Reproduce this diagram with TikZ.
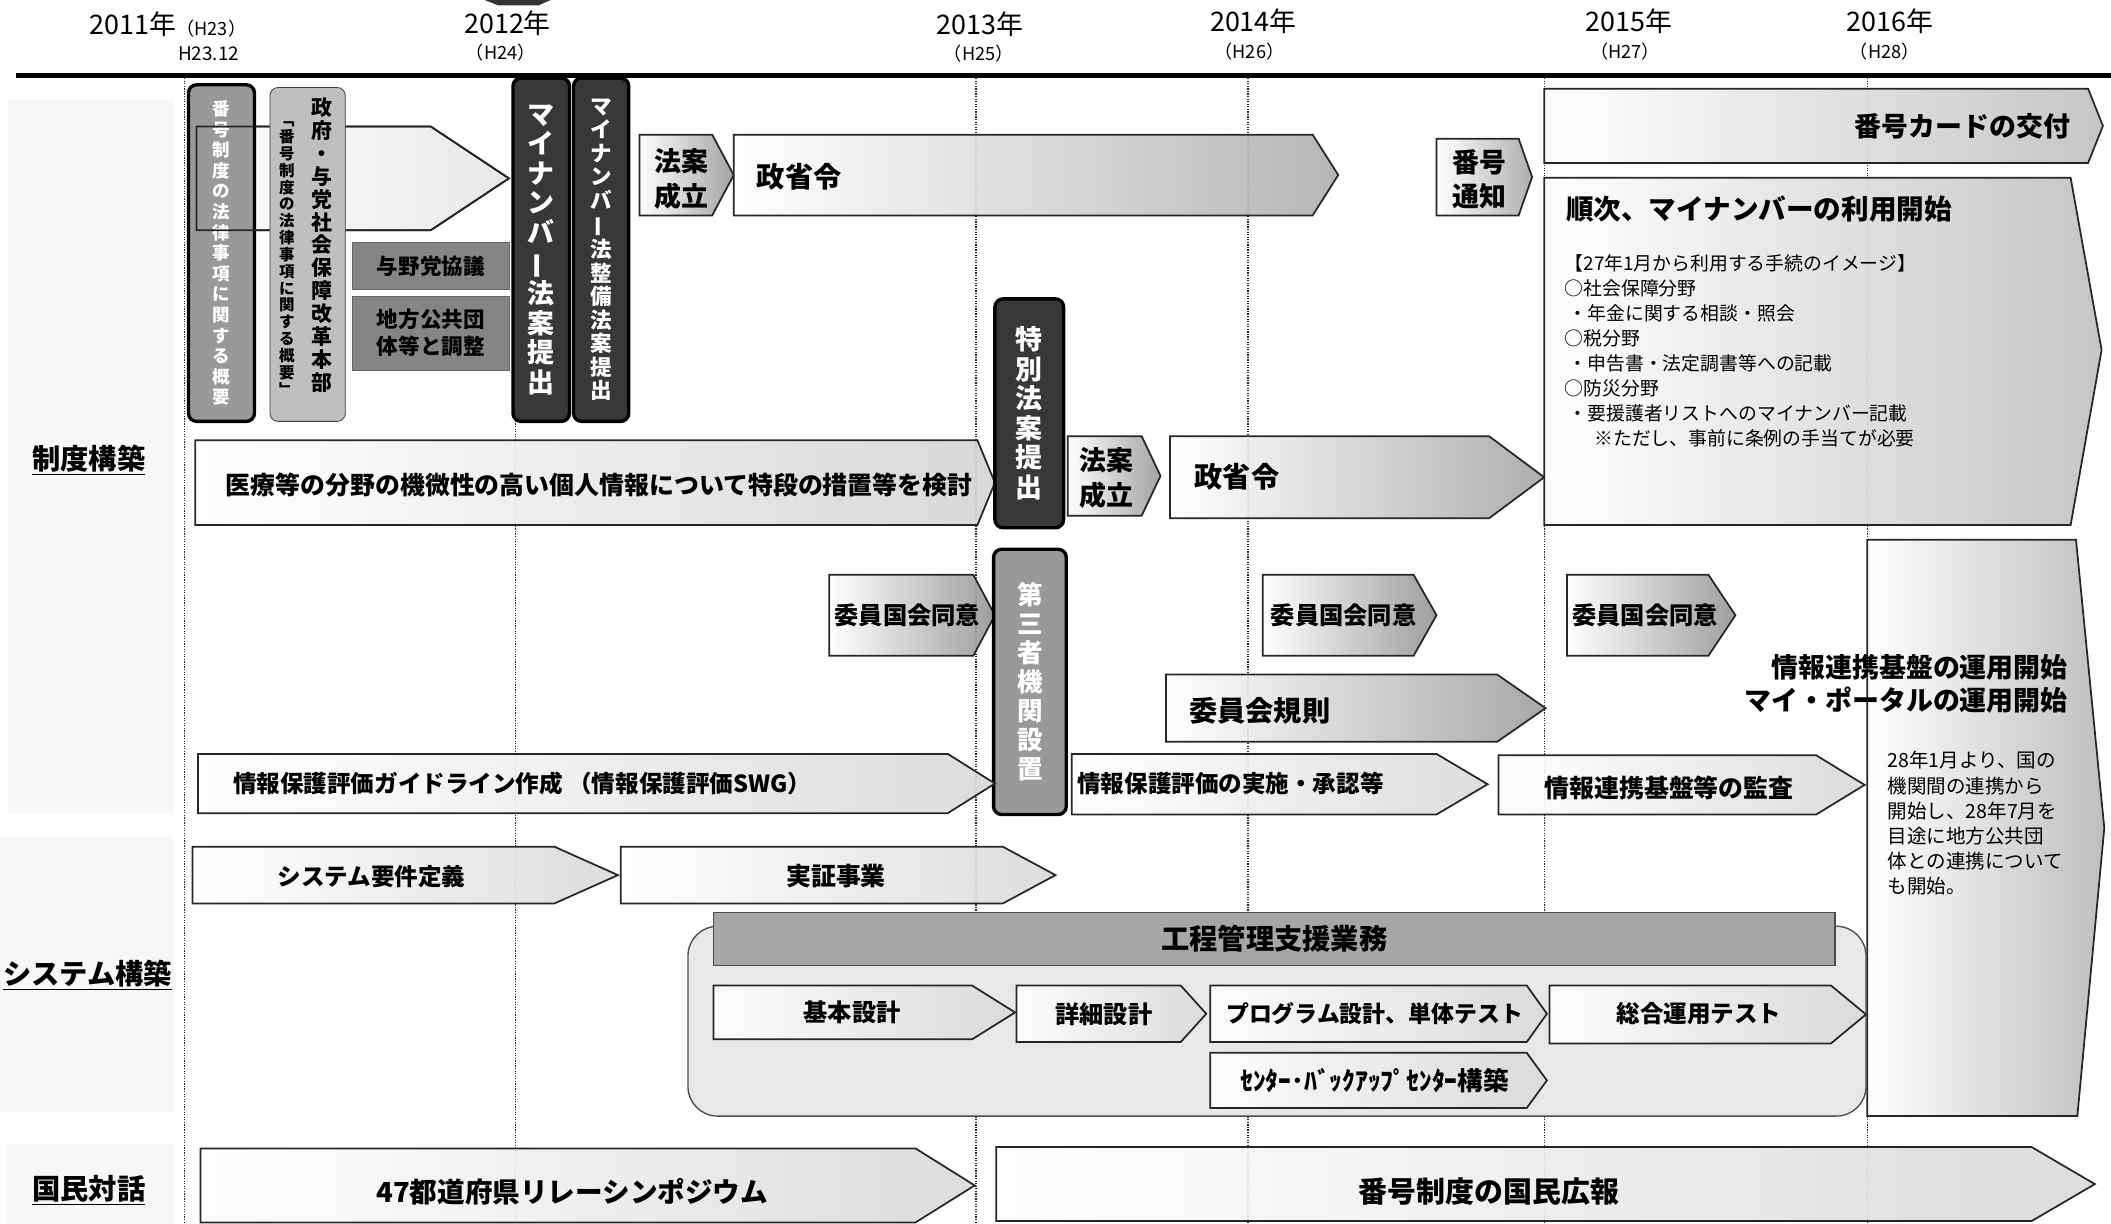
\documentclass[tikz,border=0pt]{standalone}
\usepackage{fontspec}
\setmainfont{Noto Sans CJK JP}
\usepackage{graphicx}

% chevron: [right colour]{name}{x left}{y top}{x body end}{x tip}{y bottom}
\newcommand{\chevron}[7][black!15]{%
  \shadedraw[chev, right color=#1] (#3,#4) -- (#5,#4) -- (#6,{(#4+#7)/2}) -- (#5,#7) -- (#3,#7) -- cycle;
  \coordinate (#2) at ({(#3+#5)/2},{(#4+#7)/2});
}
\newcommand{\longbar}{\rotatebox[origin=c]{90}{ー}}

\begin{document}
\begin{tikzpicture}[
    x=1pt, y=-1pt,
    chev/.style={draw=black!85, line width=1.3pt, left color=white, fill opacity=0.9},
    lbl/.style={inner sep=0pt, font=\bfseries\fontsize{#1}{#1}\selectfont},
    lbl/.default=18,
    year/.style={inner sep=0pt, font=\fontsize{20}{20}\selectfont},
    era/.style={inner sep=0pt, font=\fontsize{13.5}{13.5}\selectfont},
    grid/.style={densely dotted, line width=0.9pt, black!85},
    panel/.style={fill=black!3},
    cat/.style={inner sep=0pt, font=\bfseries\fontsize{21}{21}\selectfont},
    vbox/.style={draw=black, line width=2.5pt, rounded corners=6pt, align=center, inner sep=0pt},
    flat/.style={draw=black!60, line width=0.6pt, align=center, inner sep=0pt}
]
    \useasboundingbox (0,0) rectangle (1568,909);
    % Years
    \fill[black!80] (360,0) -- (409,0) -- (400,4) -- (370,4) -- cycle;
    \node[year] (y11) at (99,18) {2011年};
    \node[era] (h23) at (157,21) {（H23）};
    \node[era, font=\fontsize{14}{14}\selectfont] (h2312) at (155,40) {H23.12};
    \node[year] (y12) at (377,17) {2012年};
    \node[era] (h24) at (372,39) {（H24）};
    \node[year] (y13) at (728,18) {2013年};
    \node[era] (h25) at (727,40) {（H25）};
    \node[year] (y14) at (931,16) {2014年};
    \node[year] (y15) at (1210,16) {2015年};
    \node[era] (h26) at (928,38) {（H26）};
    \node[era] (h27) at (1207,38) {（H27）};
    \node[year] (y16) at (1404,16) {2016年};
    \node[era] (h28) at (1400,38) {（H28）};
    \draw[line width=3.5pt] (12,56) -- (1568,56);
    % Panels
    \fill[panel] (6,74) rectangle (129,604);
    \fill[panel] (0,622) rectangle (129,826);
    \fill[panel] (5,850) rectangle (129,909);
    \node[cat] (seido) at (66,342) {\underline{制度構築}};
    \node[cat] (system) at (65,724) {\underline{システム構築}};
    \node[cat] (taiwa) at (66,884) {\underline{国民対話}};
    % Grid
    \draw[grid] (137,58) -- (137,909);
    \draw[grid] (383,58) -- (383,909);
    \draw[grid] (725,58) -- (725,909);
    \draw[grid] (927,58) -- (927,909);
    \draw[grid] (1147,58) -- (1147,909);
    \draw[grid] (1387,58) -- (1387,909);

    % Seido
    \chevron[black!10]{honbu}{146}{94}{320}{378}{171}
    \node[vbox, fill=black!40, minimum width=49pt, minimum height=250pt, text=white,
          font=\bfseries\fontsize{13}{15.3}\selectfont] (gaiyo) at (164.5,188)
          {番\\号\\制\\度\\の\\法\\律\\事\\項\\に\\関\\す\\る\\概\\要};
    \draw[black!85, line width=1.3pt] (146,94) -- (320,94) -- (378,132.5) -- (320,171) -- (146,171) -- cycle;
    \node[flat, fill=black!25, draw=black!75, rounded corners=6pt, minimum width=56pt, minimum height=248pt] (kaikaku) at (228.5,189) {};
    \node[inner sep=0pt, align=center, font=\bfseries\fontsize{15.5}{17}\selectfont] (kaikakuR) at (239,182)
          {政\\府\\・\\与\\党\\社\\会\\保\\障\\改\\革\\本\\部};
    \node[inner sep=0pt, align=center, font=\bfseries\fontsize{11.5}{12.5}\selectfont] (kaikakuL) at (213,192)
          {﹁\\番\\号\\制\\度\\の\\法\\律\\事\\項\\に\\関\\す\\る\\概\\要\\﹂};
    \node[flat, fill=black!48, minimum width=116pt, minimum height=35pt, font=\bfseries\fontsize{16}{16}\selectfont] (yoyato) at (320,197.5) {与野党協議};
    \node[flat, fill=black!48, minimum width=116pt, minimum height=55pt, font=\bfseries\fontsize{16}{20}\selectfont] (chiho) at (320,247.5) {地方公共団\\体等と調整};
    \node[vbox, fill=black!78, minimum width=42pt, minimum height=255pt, text=white,
          font=\bfseries\fontsize{20}{22}\selectfont] (mynBill) at (402,185.5)
          {マ\\イ\\ナ\\ン\\バ\\\longbar\\法\\案\\提\\出};
    \node[vbox, fill=black!78, minimum width=41pt, minimum height=255pt, text=white,
          font=\bfseries\fontsize{16}{17.5}\selectfont] (seibiBill) at (446.5,185.5)
          {マ\\イ\\ナ\\ン\\バ\\\longbar\\法\\整\\備\\法\\案\\提\\出};
    \chevron[black!40]{hoan1}{475}{100}{529}{545}{160}
    \node[lbl, align=center, font=\bfseries\fontsize{20}{26}\selectfont] (tHoan1) at (506,133) {法案\\成立};
    \chevron[black!32]{seisho1}{545}{100}{975}{994}{160}
    \node[lbl=21, anchor=west] (tSeisho1) at (562,131) {政省令};
    \chevron[black!17]{iryo}{145}{327}{726}{739}{390}
    \node[lbl=18.5] (tIryo) at (445,360) {医療等の分野の機微性の高い個人情報について特段の措置等を検討};
    \node[vbox, fill=black!78, minimum width=51pt, minimum height=170pt, text=white,
          font=\bfseries\fontsize{20}{22}\selectfont] (tokubetsu) at (764.5,307)
          {特\\別\\法\\案\\提\\出};
    \chevron[black!40]{hoan2}{793}{324}{848}{862}{383}
    \node[lbl, align=center, font=\bfseries\fontsize{20}{26}\selectfont] (tHoan2) at (822,355) {法案\\成立};
    \chevron[black!35]{seisho2}{869}{324}{1106}{1147}{385}
    \node[lbl=21, anchor=west] (tSeisho2) at (887,354) {政省令};
    \chevron[black!42]{doi1}{616}{427}{723}{739}{487}
    \node[lbl=18] (tDoi1) at (674,457) {委員国会同意};
    \node[vbox, fill=black!40, minimum width=54pt, minimum height=197pt, text=white,
          font=\bfseries\fontsize{19}{21.5}\selectfont] (daisansha) at (765,506.5)
          {第\\三\\者\\機\\関\\設\\置};
    \chevron[black!42]{doi2}{938}{427}{1050}{1067}{487}
    \node[lbl=18] (tDoi2) at (998,457) {委員国会同意};
    \chevron[black!42]{doi3}{1164}{427}{1269}{1289}{487}
    \node[lbl=18] (tDoi3) at (1222,457) {委員国会同意};
    \chevron[black!38]{kisoku}{866}{501}{1112}{1148}{551}
    \node[lbl=21, anchor=west] (tKisoku) at (883,528) {委員会規則};
    \chevron[black!15]{guide}{147}{560}{704}{739}{604}
    \node[lbl=17.5, anchor=west] (tGuide) at (173,582) {情報保護評価ガイドライン作成 （情報保護評価SWG）};
    \chevron[black!15]{jisshi}{796}{560}{1067}{1105}{605}
    \node[lbl=17.5, anchor=west] (tJisshi) at (800,582) {情報保護評価の実施・承認等};
    \chevron[black!15]{kansa}{1113}{561}{1349}{1385}{605}
    \node[lbl=18.5, anchor=west] (tKansa) at (1147,585) {情報連携基盤等の監査};

    % Right side
    \chevron[black!35]{tsuchi}{1067}{103}{1128}{1138}{160}
    \node[lbl, align=center, font=\bfseries\fontsize{20}{25}\selectfont] (tTsuchi) at (1099,133) {番号\\通知};
    \chevron[black!25]{card}{1147}{66}{1551}{1562}{121}
    \node[lbl=20, anchor=east] (tCard) at (1538,94) {番号カードの交付};
    \shadedraw[chev, right color=black!25] (1147,132) -- (1538,132) -- (1561,260) -- (1538,390) -- (1147,390) -- cycle;
    \node[lbl=20.5, anchor=west] (tRiyo) at (1163,155) {順次、マイナンバーの利用開始};
    \node[inner sep=0pt, anchor=north west, align=left, font=\fontsize{14}{18.6}\selectfont] (tImage) at (1162,189)
          {【27年1月から利用する手続のイメージ】\\
           ○社会保障分野\\
           \hspace*{3pt}・年金に関する相談・照会\\
           ○税分野\\
           \hspace*{3pt}・申告書・法定調書等への記載\\
           ○防災分野\\
           \hspace*{3pt}・要援護者リストへのマイナンバー記載\\
           \hspace*{22pt}※ただし、事前に条例の手当てが必要};
    \shadedraw[chev, right color=black!28] (1387,401) -- (1542,401) -- (1563,615) -- (1543,829) -- (1387,829) -- cycle;
    \node[inner sep=0pt, anchor=east, align=right, font=\bfseries\fontsize{20}{24}\selectfont] (tKiban) at (1536,508)
          {情報連携基盤の運用開始\\マイ・ポータルの運用開始};
    \node[inner sep=0pt, anchor=north west, align=left, font=\fontsize{14.5}{18.6}\selectfont] (tRenkei) at (1402,558)
          {28年1月より、国の\\機関間の連携から\\開始し、28年7月を\\目途に地方公共団\\体との連携について\\も開始。};

    % System
    \chevron[black!15]{youken}{143}{629}{412}{459}{671}
    \node[lbl=17.5] (tYouken) at (276,651) {システム要件定義};
    \chevron[black!15]{jissho}{461}{629}{745}{784}{671}
    \node[lbl=18.5] (tJissho) at (621,651) {実証事業};
    \draw[fill=black!9, draw=black!70, line width=1pt, rounded corners=22pt] (511,688) rectangle (1386,829);
    \node[flat, fill=black!35, draw=black!70, line width=1pt, minimum width=833pt, minimum height=39pt,
          font=\bfseries\fontsize{21}{21}\selectfont] (kanri) at (946.5,697.5) {工程管理支援業務};
    \chevron[black!15]{kihon}{530}{732}{722}{754}{772}
    \node[lbl=18] (tKihon) at (633,752) {基本設計};
    \chevron[black!15]{shosai}{755}{732}{877}{896}{774}
    \node[lbl=18] (tShosai) at (820,753) {詳細設計};
    \chevron[black!15]{program}{899}{732}{1134}{1149}{774}
    \node[lbl=17] (tProgram) at (1021,753) {プログラム設計、単体テスト};
    \chevron[black!15]{sogo}{1151}{732}{1360}{1386}{775}
    \node[lbl=17.5] (tSogo) at (1262,753) {総合運用テスト};
    \chevron[black!15]{backup}{899}{782}{1134}{1149}{823}
    \node[lbl=19] (tBackup) at (1021,803) {ｾﾝﾀｰ･ﾊﾞｯｸｱｯﾌﾟｾﾝﾀｰ構築};

    % Taiwa
    \chevron[black!15]{sympo}{149}{853}{680}{724}{908}
    \node[lbl=20.5] (tSympo) at (425,885) {47都道府県リレーシンポジウム};
    \chevron[black!15]{koho}{740}{852}{1509}{1556}{907}
    \node[lbl=21.5] (tKoho) at (1106,885) {番号制度の国民広報};
\end{tikzpicture}
\end{document}
